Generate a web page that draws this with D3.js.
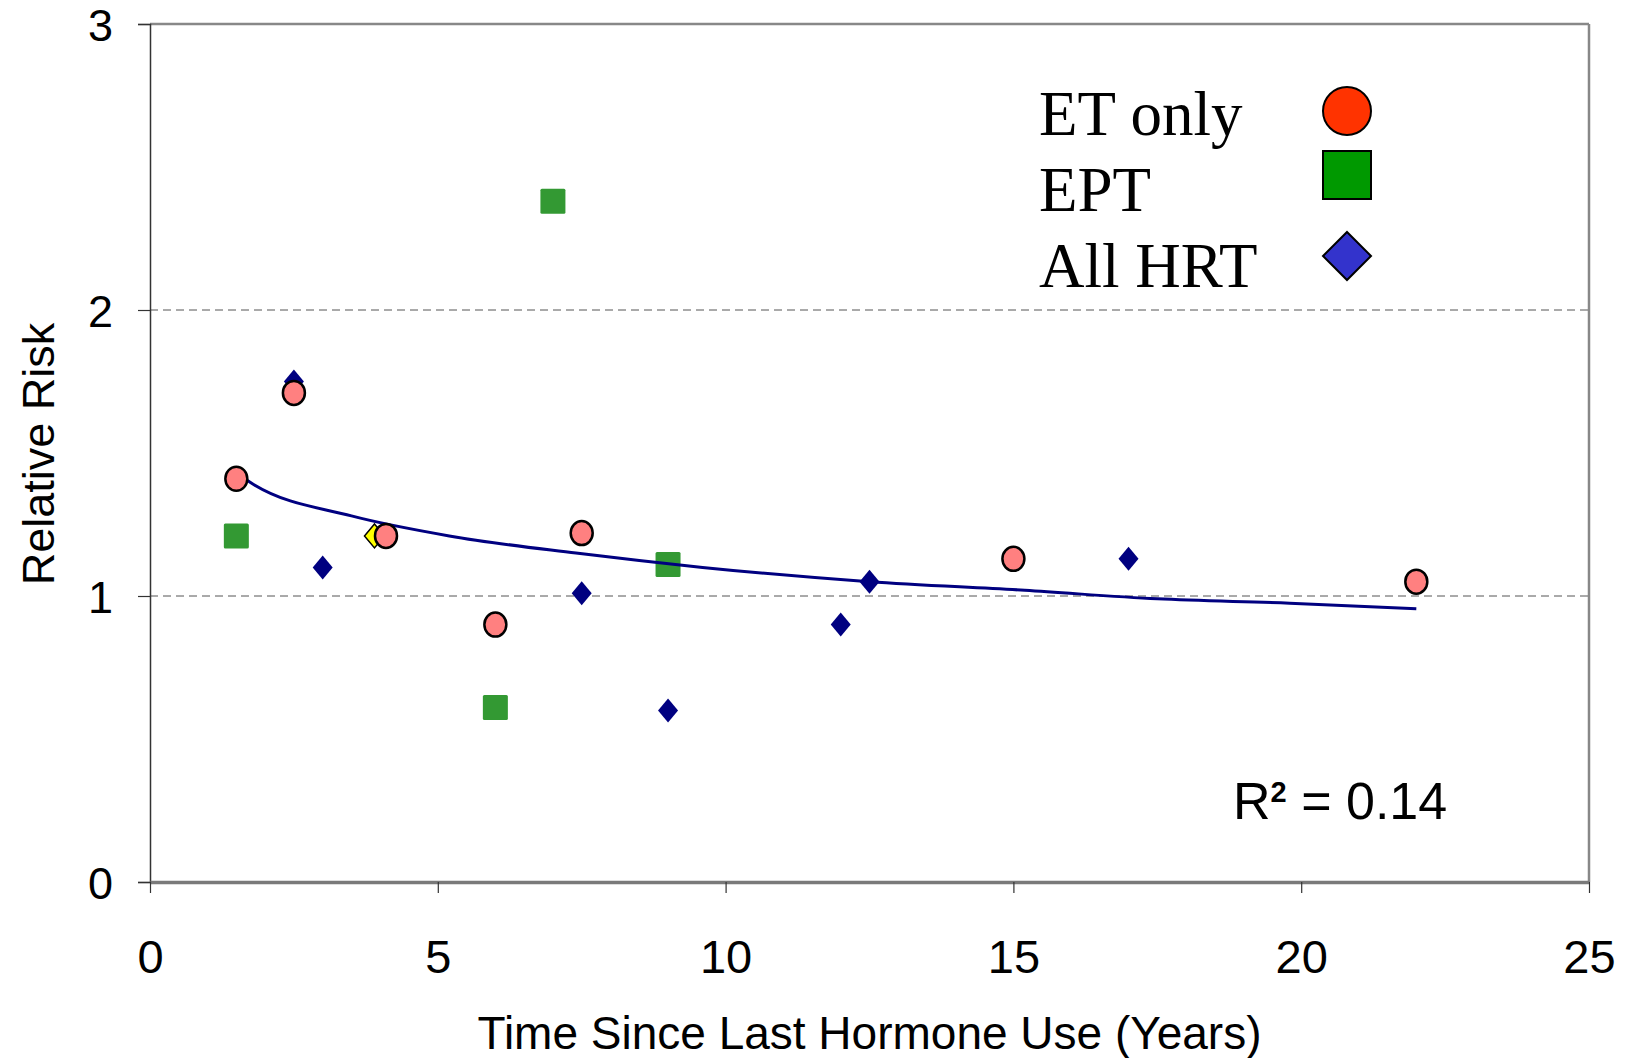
<!DOCTYPE html>
<meta charset="utf-8">
<style>
body { margin: 0; background: #fff; }
.tick text { font-family: "Liberation Sans", Arial, sans-serif; fill: #000; }
.grid { stroke: #555; stroke-width: 1; stroke-dasharray: 8,5; }
</style>
<body>
<script src="https://cdn.jsdelivr.net/npm/d3@7"></script>
<script>
    const width = 1632;
    const height = 1058;

    // values: [years, relative risk]
    const etOnly = [[1.5, 1.41], [2.5, 1.71], [4.1, 1.21], [6, 0.90], [7.5, 1.22], [15, 1.13], [22, 1.05]];
    const ept = [[1.5, 1.21], [6, 0.61], [7, 2.38], [9, 1.11]];
    const allHrt = [[2.5, 1.75], [3, 1.10], [7.5, 1.01], [9, 0.60], [12, 0.90], [12.5, 1.05], [17, 1.13]];
    const hiddenHrt = [[3.9, 1.21]];
    const trend = [[1.5, 1.43], [1.8, 1.39], [3.5, 1.28], [5.2, 1.21], [7.4, 1.15], [9.6, 1.10],
                   [12.5, 1.05], [15.2, 1.02], [17.5, 0.99], [19.8, 0.975], [22, 0.955]];
    const xTicks = [0, 5, 10, 15, 20, 25];
    const yTicks = [0, 1, 2, 3];
    const legendLabels = ["ET only", "EPT", "All HRT"];

    const plotLeft = 150, plotRight = 1589, plotTop = 24, plotBottom = 882;

    const x = d3.scaleLinear().domain([0, 25]).range([plotLeft, plotRight]);
    const y = d3.scaleLinear().domain([0, 3]).range([plotBottom, plotTop]);

    const svg = d3.select("body").append("svg")
        .attr("width", width)
        .attr("height", height);

    // gridlines
    svg.selectAll(".grid").data([1, 2]).enter()
        .append("line")
        .attr("class", "grid")
        .attr("x1", plotLeft).attr("x2", plotRight)
        .attr("y1", function(d) { return y(d); })
        .attr("y2", function(d) { return y(d); });

    // frame
    svg.append("line").attr("x1", plotLeft).attr("x2", plotRight).attr("y1", plotTop).attr("y2", plotTop)
        .attr("stroke", "#888").attr("stroke-width", 2.5);
    svg.append("line").attr("x1", plotRight).attr("x2", plotRight).attr("y1", plotTop).attr("y2", plotBottom)
        .attr("stroke", "#888").attr("stroke-width", 2.5);

    const yAxis = svg.append("g")
        .attr("transform", "translate(" + plotLeft + ",0)")
        .call(d3.axisLeft(y).tickValues(yTicks).tickSize(12).tickPadding(25).tickFormat(d3.format("d")));
    yAxis.select(".domain").attr("stroke", "#333").attr("stroke-width", 1.5);
    yAxis.selectAll(".tick line").attr("stroke", "#333").attr("stroke-width", 1.2);
    yAxis.selectAll(".tick text").style("font-size", "45px").attr("dy", "0.36em");

    const xAxis = svg.append("g")
        .attr("transform", "translate(0," + plotBottom + ")")
        .call(d3.axisBottom(x).tickValues(xTicks).tickSize(11).tickSizeOuter(0).tickPadding(80).tickFormat(d3.format("d")));
    xAxis.select(".domain").attr("stroke", "#7a7a7a").attr("stroke-width", 3.5);
    xAxis.selectAll(".tick line").attr("stroke", "#333").attr("stroke-width", 1.2);
    xAxis.selectAll(".tick text").style("font-size", "47px").attr("dy", "0");

    // axis titles
    svg.append("text")
        .attr("x", (plotLeft + plotRight) / 2)
        .attr("y", 1049)
        .attr("text-anchor", "middle")
        .style("font-family", "Liberation Sans, Arial, sans-serif")
        .style("font-size", "46px")
        .text("Time Since Last Hormone Use (Years)");

    svg.append("text")
        .attr("transform", "translate(54,454) rotate(-90)")
        .attr("text-anchor", "middle")
        .style("font-family", "Liberation Sans, Arial, sans-serif")
        .style("font-size", "45px")
        .text("Relative Risk");

    const diamond = function(cx, cy, w, h) {
        return "M" + cx + "," + (cy - h) + "L" + (cx + w) + "," + cy + "L" + cx + "," + (cy + h) + "L" + (cx - w) + "," + cy + "Z";
    };

    // EPT squares
    svg.selectAll(".ept").data(ept).enter()
        .append("rect")
        .attr("x", function(d) { return x(d[0]) - 12.5; })
        .attr("y", function(d) { return y(d[1]) - 12.5; })
        .attr("width", 25).attr("height", 25)
        .attr("rx", 1.5)
        .attr("fill", "#339933");

    // trend line
    svg.append("path")
        .datum(trend)
        .attr("fill", "none")
        .attr("stroke", "#000080")
        .attr("stroke-width", 3)
        .attr("d", d3.line()
            .x(function(d) { return x(d[0]); })
            .y(function(d) { return y(d[1]); })
            .curve(d3.curveMonotoneX));

    // hidden point under a circle
    svg.selectAll(".hid").data(hiddenHrt).enter()
        .append("path")
        .attr("d", function(d) { return diamond(x(d[0]), y(d[1]), 10, 12); })
        .attr("fill", "#ffff00")
        .attr("stroke", "#000")
        .attr("stroke-width", 1.5);

    // all HRT diamonds
    svg.selectAll(".hrt").data(allHrt).enter()
        .append("path")
        .attr("d", function(d) { return diamond(x(d[0]), y(d[1]), 10, 12); })
        .attr("fill", "#000080");

    // ET only circles
    svg.selectAll(".et").data(etOnly).enter()
        .append("ellipse")
        .attr("cx", function(d) { return x(d[0]); })
        .attr("cy", function(d) { return y(d[1]); })
        .attr("rx", 11).attr("ry", 12)
        .attr("fill", "#ff8080")
        .attr("stroke", "#000")
        .attr("stroke-width", 2.5);

    // legend
    const legend = svg.append("g");
    legend.selectAll("text").data(legendLabels).enter()
        .append("text")
        .attr("x", 1039)
        .attr("y", function(d, i) { return 135 + i * 76; })
        .style("font-family", "Liberation Serif, Times New Roman, serif")
        .style("font-size", "63px")
        .text(function(d) { return d; });

    legend.append("circle")
        .attr("cx", 1347).attr("cy", 111).attr("r", 24)
        .attr("fill", "#ff3300").attr("stroke", "#000").attr("stroke-width", 2);
    legend.append("rect")
        .attr("x", 1323).attr("y", 151).attr("width", 48).attr("height", 48)
        .attr("fill", "#009900").attr("stroke", "#000").attr("stroke-width", 2);
    legend.append("path")
        .attr("d", diamond(1347, 256, 24, 24))
        .attr("fill", "#3333cc").attr("stroke", "#000").attr("stroke-width", 2);

    // R squared
    const r2 = svg.append("text")
        .attr("x", 1233)
        .attr("y", 819)
        .style("font-family", "Liberation Sans, Arial, sans-serif")
        .style("font-size", "52px");
    r2.append("tspan").text("R");
    r2.append("tspan").attr("dy", -17).style("font-size", "29px").style("font-weight", "bold").text("2");
    r2.append("tspan").attr("dy", 17).text(" = 0.14");
</script>
</body>
